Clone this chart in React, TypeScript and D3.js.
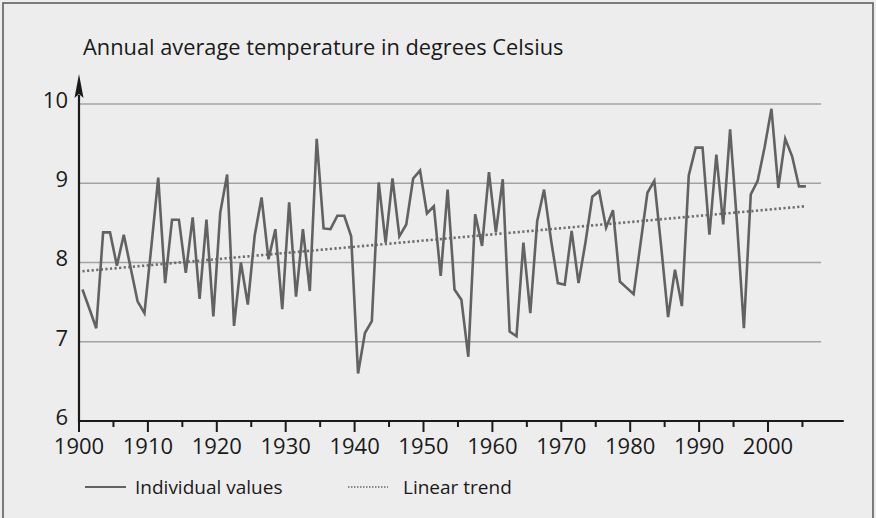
import React from 'react';
import * as d3 from 'd3';

const years = d3.range(1900, 2006);
const temps = [
  7.66, 7.42, 7.17, 8.38, 8.38, 7.96, 8.35, 7.93, 7.51, 7.36,
  8.2, 9.07, 7.74, 8.54, 8.54, 7.87, 8.57, 7.54, 8.54, 7.32,
  8.63, 9.11, 7.2, 8.0, 7.47, 8.34, 8.82, 8.04, 8.42, 7.41,
  8.76, 7.57, 8.42, 7.64, 9.56, 8.43, 8.42, 8.59, 8.59, 8.33,
  6.6, 7.11, 7.26, 9.01, 8.25, 9.06, 8.33, 8.48, 9.06, 9.16,
  8.62, 8.71, 7.83, 8.92, 7.66, 7.53, 6.81, 8.61, 8.21, 9.14,
  8.38, 9.05, 7.13, 7.07, 8.25, 7.36, 8.52, 8.92, 8.29, 7.74,
  7.72, 8.4, 7.74, 8.25, 8.83, 8.9, 8.44, 8.66, 7.76, 7.68,
  7.6, 8.24, 8.88, 9.03, 8.2, 7.31, 7.91, 7.45, 9.1, 9.45,
  9.45, 8.35, 9.36, 8.48, 9.68, 8.5, 7.17, 8.86, 9.03, 9.45,
  9.94, 8.94, 9.56, 9.34, 8.96, 8.96,
];
// linear trend: [year, value] at both ends
const trend: [number, number][] = [[1900, 7.89], [2005, 8.71]];
const yTicks = [6, 7, 8, 9, 10];
const gridValues = [7, 8, 9, 10];
const xMajor = d3.range(1900, 2001, 10);
const xMinor = d3.range(1905, 2006, 10);

const W = 876;
const H = 518;
const FONT = "'Open Sans', 'Noto Sans', sans-serif";

export default function App() {
  const x = d3.scaleLinear().domain([1900, 2000]).range([79, 768]);
  const y = d3.scaleLinear().domain([6, 10]).range([421, 104]);

  const line = d3
    .line<number>()
    .x((_, i) => x(years[i] + 0.5))
    .y((d) => y(d));

  const trendLine = d3
    .line<[number, number]>()
    .x((d) => x(d[0] + 0.5))
    .y((d) => y(d[1]));

  const axisY = y(6);
  const axisRight = x(2011);
  const gridRight = x(2007.7);
  const x0 = x(1900);

  return (
    <svg
      width={W}
      height={H}
      style={{ position: 'absolute', left: 0, top: 0 }}
      fontFamily={FONT}
    >
      <rect width={W} height={H} fill="#ededed" />
      <path
        d={`M3,${H} V3 H873 V${H}`}
        fill="none"
        stroke="#555"
        strokeWidth={1.5}
      />

      <text x={83} y={55} fontSize={21.8} fill="#1a1a1a">
        Annual average temperature in degrees Celsius
      </text>

      {gridValues.map((v) => (
        <line
          key={v}
          x1={x0}
          x2={gridRight}
          y1={y(v)}
          y2={y(v)}
          stroke="#a3a3a3"
          strokeWidth={1.6}
        />
      ))}

      {yTicks.map((v) => (
        <text
          key={v}
          x={68}
          y={y(v) - 2}
          textAnchor="end"
          dominantBaseline="middle"
          fontSize={22}
          fill="#1a1a1a"
        >
          {v}
        </text>
      ))}

      <path
        d={trendLine(trend) ?? ''}
        fill="none"
        stroke="#6e6e6e"
        strokeWidth={2.6}
        strokeDasharray="2.2,2.4"
      />
      <path
        d={line(temps) ?? ''}
        fill="none"
        stroke="#626262"
        strokeWidth={2.6}
        strokeLinejoin="miter"
      />

      {/* axes */}
      <line x1={x0} x2={axisRight} y1={axisY} y2={axisY} stroke="#1a1a1a" strokeWidth={2.2} />
      <line x1={x0} x2={x0} y1={axisY + 1} y2={95} stroke="#1a1a1a" strokeWidth={2.2} />
      <path d={`M${x0},74 L${x0 + 4.5},98 L${x0},94 L${x0 - 4.5},98 Z`} fill="#1a1a1a" />

      {xMajor.map((t) => (
        <g key={t}>
          <line x1={x(t)} x2={x(t)} y1={axisY} y2={axisY + 11} stroke="#1a1a1a" strokeWidth={2} />
          <text x={x(t)} y={454} textAnchor="middle" fontSize={22} fill="#1a1a1a">
            {t}
          </text>
        </g>
      ))}
      {xMinor.map((t) => (
        <line key={t} x1={x(t)} x2={x(t)} y1={axisY} y2={axisY + 6} stroke="#1a1a1a" strokeWidth={2} />
      ))}

      {/* legend */}
      <line x1={85} x2={126} y1={487} y2={487} stroke="#626262" strokeWidth={1.8} />
      <text x={135} y={494} fontSize={19} fill="#1a1a1a">
        Individual values
      </text>
      <line
        x1={348}
        x2={388}
        y1={487}
        y2={487}
        stroke="#8a8a8a"
        strokeWidth={1.8}
        strokeDasharray="1.5,1.5"
      />
      <text x={403} y={494} fontSize={19} fill="#1a1a1a">
        Linear trend
      </text>
    </svg>
  );
}
